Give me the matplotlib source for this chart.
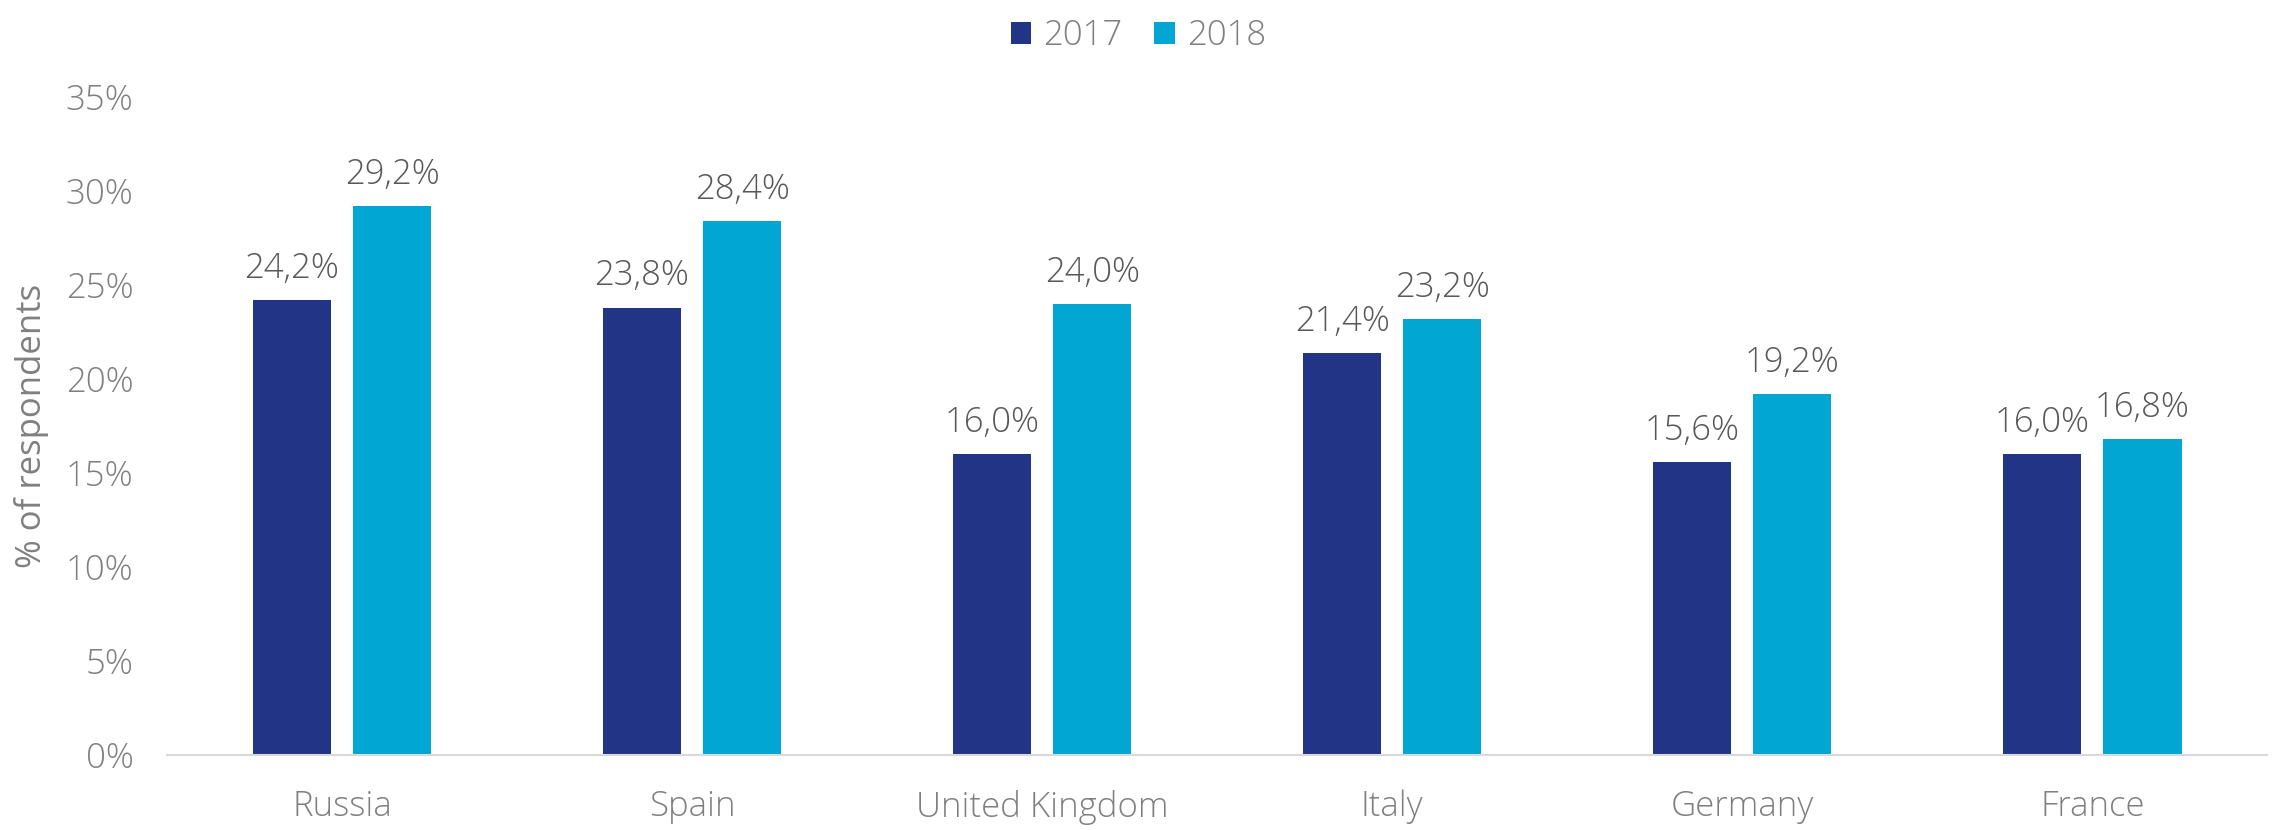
import matplotlib
matplotlib.use("Agg")
import matplotlib.pyplot as plt
import numpy as np
from matplotlib import font_manager

countries = ["Russia", "Spain", "United Kingdom", "Italy", "Germany", "France"]
years = ["2017", "2018"]
values_2017 = [24.2, 23.8, 16.0, 21.4, 15.6, 16.0]
values_2018 = [29.2, 28.4, 24.0, 23.2, 19.2, 16.8]
y_ticks = [0, 5, 10, 15, 20, 25, 30, 35]

colors = ["#223486", "#02A6D3"]


def pick_light_family():
    """Prefer a family that ships a real light face."""
    for name in ["Open Sans", "Lato", "Roboto", "Inter", "Noto Sans"]:
        for f in font_manager.fontManager.ttflist:
            w = f.weight if isinstance(f.weight, int) else 400
            if f.name == name and w <= 300 and f.style == "normal":
                return name
    return "Open Sans"


main_family = pick_light_family()
plt.rcParams["font.family"] = [main_family, "DejaVu Sans"]
plt.rcParams["font.weight"] = "light"

FS = 25

fig = plt.figure(figsize=(22.72, 8.30), dpi=100)
ax = fig.add_axes([0.0735, 0.0904, 0.9245, 0.7927])

x = np.arange(len(countries))
offset = 0.143
width = 0.223
series = [values_2017, values_2018]
for i, (vals, col, yr) in enumerate(zip(series, colors, years)):
    pos = x + (offset if i else -offset)
    bars = ax.bar(pos, vals, width=width, color=col, label=yr, zorder=2)
    for b, v in zip(bars, vals):
        ax.text(b.get_x() + b.get_width() / 2, v + 0.75,
                f"{v:.1f}%".replace(".", ","), ha="center", va="bottom",
                fontsize=FS, color="#595959", fontweight="light")

ax.set_xlim(-0.5, len(countries) - 0.5)
ax.set_ylim(0, 35)
ax.set_yticks(y_ticks)
ax.set_yticklabels([f"{t}%" for t in y_ticks])
ax.set_xticks(x)
ax.set_xticklabels(countries)
ax.tick_params(axis="both", length=0, labelsize=FS, labelcolor="#808080")
ax.tick_params(axis="y", pad=24)
ax.tick_params(axis="x", pad=25)

for s in ["top", "right", "left"]:
    ax.spines[s].set_visible(False)
ax.spines["bottom"].set_color("#D9D9D9")
ax.spines["bottom"].set_linewidth(1.5)

ax.set_ylabel("% of respondents", fontsize=FS, color="#808080")
ax.yaxis.set_label_coords(-0.056, 0.5)

leg = fig.legend(loc="upper center", bbox_to_anchor=(0.501, 1.015), ncol=2,
                 frameon=False, fontsize=FS, handlelength=0.6, handleheight=0.6,
                 handletextpad=0.35, columnspacing=0.9)
for t in leg.get_texts():
    t.set_color("#808080")

fig.savefig("out.png", dpi=100)
